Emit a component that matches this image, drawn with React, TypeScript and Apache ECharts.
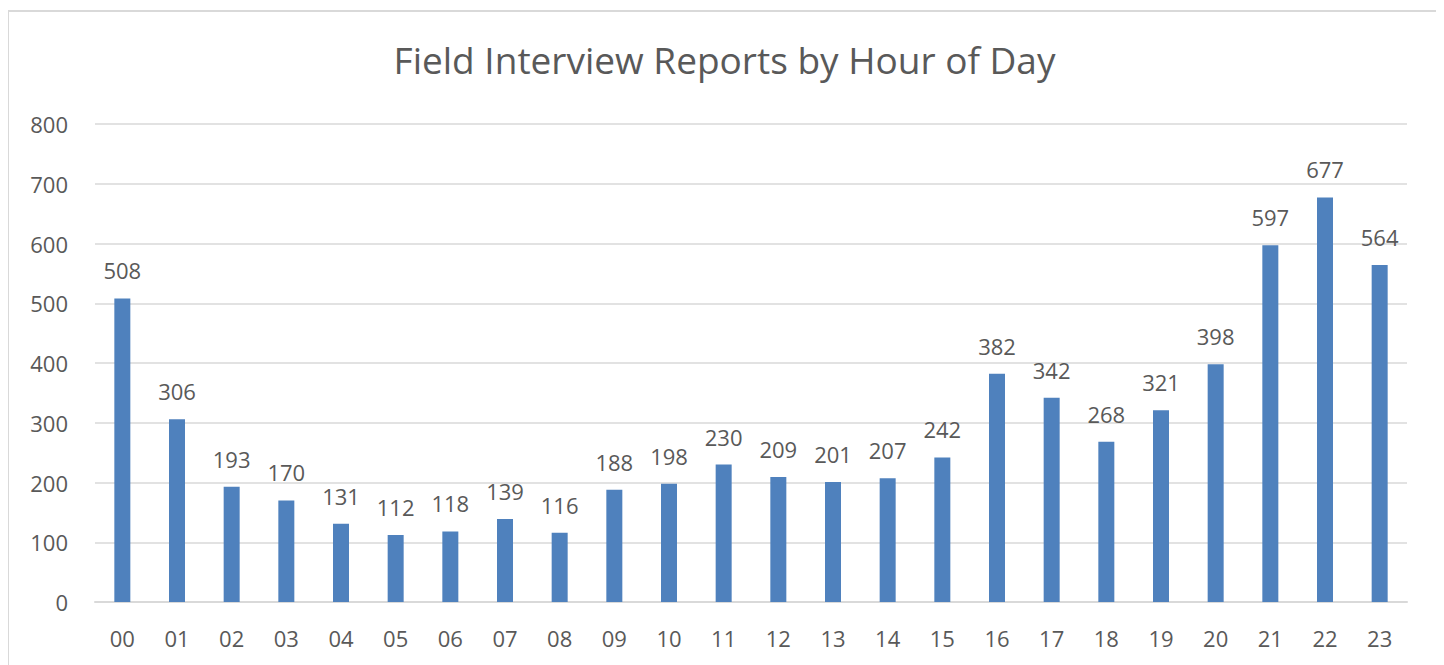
import React, { useEffect, useRef } from "react";
import * as echarts from "echarts";

const hours = ["00","01","02","03","04","05","06","07","08","09","10","11","12","13","14","15","16","17","18","19","20","21","22","23"];
const reports = [508,306,193,170,131,112,118,139,116,188,198,230,209,201,207,242,382,342,268,321,398,597,677,564];
const yTicks = { min: 0, max: 800, interval: 100 };
const titleText = "Field Interview Reports by Hour of Day";

const FONT = "'Open Sans', 'Noto Sans', sans-serif";
const TEXT = "#595959";

export default function App() {
  const ref = useRef<HTMLDivElement>(null);
  useEffect(() => {
    if (!ref.current) return;
    const chart = echarts.init(ref.current, null, { renderer: "svg" });
    chart.setOption({
      animation: false,
      backgroundColor: "#fff",
      title: {
        text: titleText,
        left: "center",
        top: 24,
        textStyle: { fontFamily: FONT, fontSize: 37, fontWeight: "normal", color: TEXT },
      },
      grid: { left: 86, top: 112, width: 1312, height: 478 },
      xAxis: {
        type: "category",
        data: hours,
        axisLine: { show: true, lineStyle: { color: "#d9d9d9", width: 2 } },
        axisTick: { show: false },
        axisLabel: { color: TEXT, fontFamily: FONT, fontSize: 22, margin: 25 },
      },
      yAxis: {
        type: "value",
        min: yTicks.min,
        max: yTicks.max,
        interval: yTicks.interval,
        axisLine: { show: false },
        axisTick: { show: false },
        splitLine: { lineStyle: { color: "#d9d9d9", width: 1.5 } },
        axisLabel: { color: TEXT, fontFamily: FONT, fontSize: 22, margin: 27 },
      },
      series: [
        {
          type: "bar",
          data: reports,
          barWidth: 16,
          itemStyle: { color: "#4F81BD" },
          label: {
            show: true,
            position: "top",
            distance: 17,
            color: TEXT,
            fontFamily: FONT,
            fontSize: 22,
          },
        },
      ],
    });
    return () => chart.dispose();
  }, []);
  return (
    <div
      style={{
        marginTop: 2,
        marginLeft: -1,
        width: 1435,
        height: 700,
        border: "2px solid #d9d9d9",
        boxSizing: "border-box",
      }}
    >
      <div ref={ref} style={{ width: 1431, height: 696 }} />
    </div>
  );
}
